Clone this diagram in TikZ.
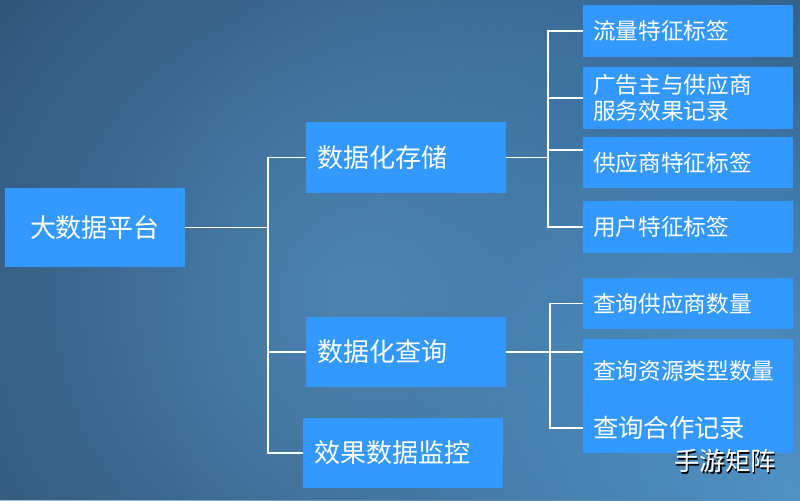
\documentclass[tikz,border=0pt]{standalone}
\usepackage{fontspec}
\setmainfont{Noto Sans CJK SC}
\usepackage{tikz}
\usetikzlibrary{
	calc,
	fadings,
	positioning
}
\definecolor{BoxBlue}{RGB}{51,153,255}
\definecolor{BgBase}{RGB}{31,53,84}
\definecolor{GlowMain}{RGB}{76,132,176}
\definecolor{GlowSide}{RGB}{52,116,170}
\definecolor{GlowCorner}{RGB}{80,146,196}
\tikzfading[name=glowfade, inner color=transparent!0, outer color=transparent!100]

\begin{document}
\begin{tikzpicture}[x=0.75pt, y=-0.75pt,
	rootbox/.style={fill=BoxBlue, text=white, minimum width=135pt, minimum height=59pt, inner sep=0pt, font=\fontsize{19.5}{22}\selectfont},
	midbox/.style={fill=BoxBlue, text=white, text width=133.5pt, inner xsep=8.25pt, inner ysep=0pt, minimum height=53pt, align=left, font=\fontsize{19.5}{22}\selectfont},
	leafbox/.style={fill=BoxBlue, text=white, text width=142.5pt, inner xsep=7.5pt, inner ysep=0pt, align=left, font=\fontsize{17}{19.5}\selectfont},
	link/.style={white, line width=0.9pt}
]
			\useasboundingbox (0,0) rectangle (800,500);
			\begin{scope}
				\clip (0,0) rectangle (800,500);
				\fill[BgBase] (0,0) rectangle (800,500);
				\fill[GlowSide, path fading=glowfade] (700,300) circle (420pt);
				\fill[GlowMain, path fading=glowfade] (360,300) circle (600pt);
				\fill[GlowCorner, path fading=glowfade] (790,490) circle (300pt);
			\end{scope}
			\node[rootbox] (platform) at (95,227.5) {大数据平台};
			\node[midbox] (storage) at (406,157.5) {数据化存储};
			\node[midbox] (query) at (406,352) {数据化查询};
			\node[midbox] (monitor) at (403,453) {效果数据监控};
			\node[leafbox, minimum height=39pt] (flowtag) at (688,31) {流量特征标签};
			\node[leafbox, minimum height=46.5pt] (adrecord) at (688,98) {广告主与供应商\\服务效果记录};
			\node[leafbox, minimum height=38.25pt] (suptag) at (688,162.5) {供应商特征标签};
			\node[leafbox, minimum height=39pt] (usertag) at (688,227) {用户特征标签};
			\node[leafbox, minimum height=38.25pt] (supcount) at (688,303.5) {查询供应商数量};
			\node[leafbox, minimum height=48pt] (rescount) at (688,371) {查询资源类型数量};
			\node[leafbox, minimum height=37.5pt, font=\fontsize{19}{22}\selectfont] (cooprecord) at (688,428) {查询合作记录};
			\coordinate (trunk) at (268,227.5);
			\coordinate (storehub) at (548,157.5);
			\coordinate (queryhub) at (550,352);
			\draw[link] (platform.east) -- (trunk);
			\draw[link] (storage.west) -| (trunk);
			\draw[link] (query.west) -| (trunk);
			\draw[link] (monitor.west) -| (trunk);
			\draw[link] (storage.east) -- (storehub);
			\draw[link] (flowtag.west) -| (storehub);
			\draw[link] (adrecord.west) -| (storehub);
			\draw[link] ([yshift=9.4pt]suptag.west) -| (storehub);
			\draw[link] (usertag.west) -| (storehub);
			\draw[link] (query.east) -- (query.east -| rescount.west);
			\draw[link] (supcount.west) -| (queryhub);
			\draw[link] (cooprecord.west) -| (queryhub);
			\node[text=black, font=\fontsize{19}{22}\selectfont] (wmshadow) at (726.5,462.5) {手游矩阵};
			\node[text=white, font=\fontsize{19}{22}\selectfont] (wm) at (725,461) {手游矩阵};
		\end{tikzpicture}
\end{document}
